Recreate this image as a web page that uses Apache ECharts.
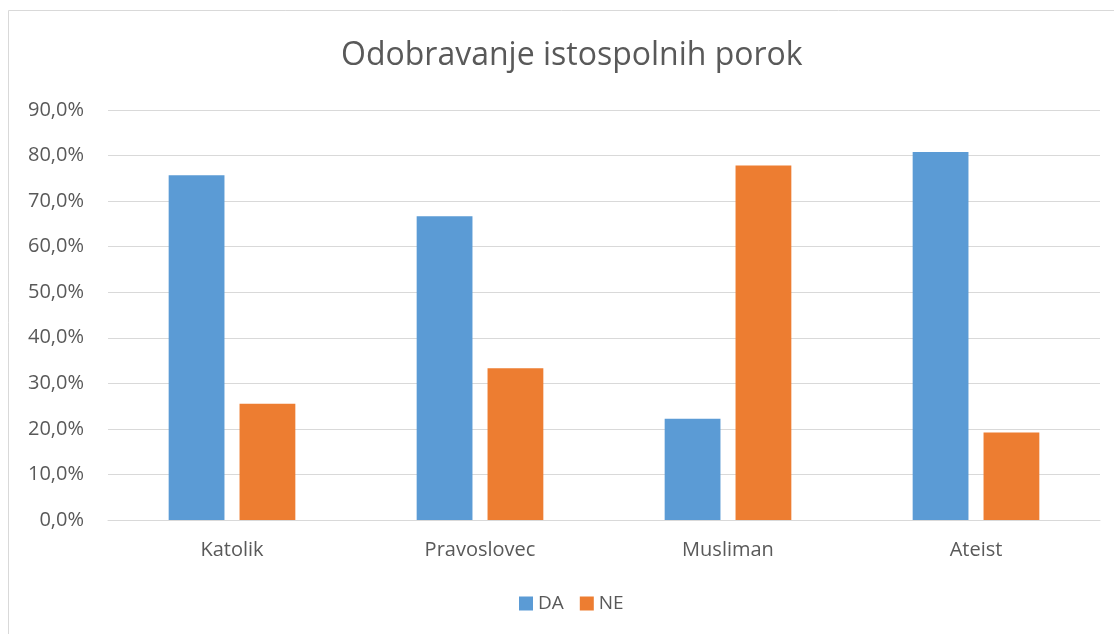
<!DOCTYPE html>
<html>
<head>
<meta charset="utf-8">
<script src="https://cdn.jsdelivr.net/npm/echarts@6/dist/echarts.min.js"></script>
<style>
  html, body { margin: 0; padding: 0; background: #fff; }
  #chart { width: 1114px; height: 634px; }
</style>
</head>
<body>
<div id="chart"></div>
<script>
// data
const categories = ['Katolik', 'Pravoslovec', 'Musliman', 'Ateist'];
const daValues = [75.7, 66.7, 22.2, 80.8];
const neValues = [25.5, 33.3, 77.8, 19.2];

const fmt = v => v.toFixed(1).replace('.', ',') + '%';

let chart = echarts.init(document.getElementById('chart'));
let option = {
    animation: false,
    textStyle: { fontFamily: '"Open Sans", sans-serif' },
    title: {
        text: 'Odobravanje istospolnih porok',
        left: 336,
        top: 35,
        textStyle: { fontSize: 32, fontWeight: 'normal', color: '#595959' }
    },
    graphic: [{
        type: 'rect',
        shape: { x: 8.5, y: 10.5, width: 1120, height: 640 },
        style: { fill: 'none', stroke: '#d9d9d9', lineWidth: 1 },
        silent: true
    }],
    legend: {
        bottom: 16,
        left: 514,
        icon: 'rect',
        itemWidth: 14,
        itemHeight: 14,
        itemGap: 16,
        textStyle: { fontSize: 19, color: '#595959' },
        data: ['DA', 'NE']
    },
    grid: { left: 108, right: 14, top: 110, bottom: 114 },
    xAxis: {
        type: 'category',
        data: categories,
        axisLine: { lineStyle: { color: '#d9d9d9' } },
        axisTick: { show: false },
        axisLabel: { fontSize: 20, color: '#595959', margin: 20 }
    },
    yAxis: {
        type: 'value',
        min: 0,
        max: 90,
        interval: 10,
        axisLine: { show: false },
        axisTick: { show: false },
        splitLine: { lineStyle: { color: '#d9d9d9' } },
        axisLabel: { fontSize: 20, color: '#595959', margin: 24, formatter: fmt }
    },
    series: [
        {
            name: 'DA',
            type: 'bar',
            data: daValues,
            barWidth: '22.5%',
            barGap: '27%',
            itemStyle: { color: '#5b9bd5' }
        },
        {
            name: 'NE',
            type: 'bar',
            data: neValues,
            barWidth: '22.5%',
            itemStyle: { color: '#ed7d31' }
        }
    ]
};
chart.setOption(option);
</script>
</body>
</html>
